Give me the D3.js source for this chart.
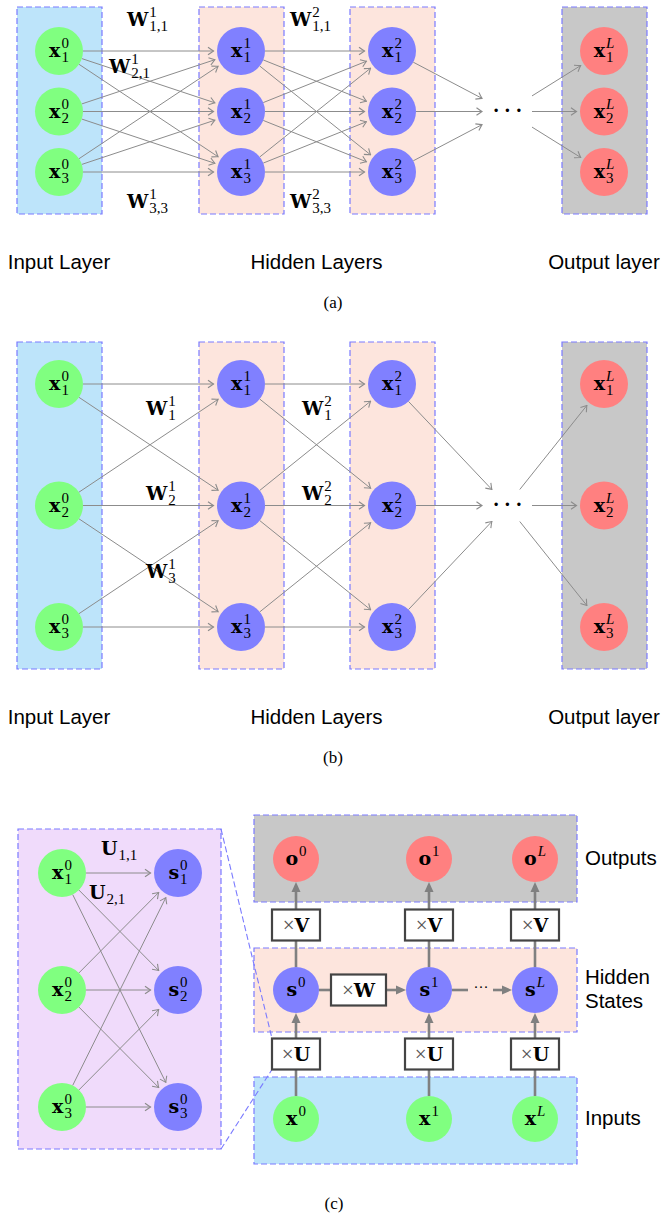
<!DOCTYPE html>
<html>
<head>
<meta charset="utf-8">
<script src="https://cdn.jsdelivr.net/npm/d3@7.9.0/dist/d3.min.js"></script>
<style>
  body { margin: 0; background: #fff; }
  svg { display: block; }
  .mb { font-family: "DejaVu Serif", serif; font-weight: bold; font-size: 19px; fill: #000; }
  .ms { font-family: "Liberation Serif", serif; font-size: 15px; fill: #000; }
  .it { font-style: italic; }
  .sans { font-family: "Liberation Sans", Arial, sans-serif; font-size: 20.5px; fill: #000; }
  .cap { font-family: "Liberation Serif", serif; font-size: 17px; fill: #000; }
</style>
</head>
<body>
<svg id="fig" width="663" height="1213"></svg>
<script>
// ---------- data ----------
const abLayers = ["0", "1", "2", "L"];               // superscripts of the layers
const abKinds = ["input", "hidden", "hidden", "output"];
const abRows = [1, 2, 3];
const layerCaptions = ["Input Layer", "Hidden Layers", "Output layer"];
const denseEdges = d3.cross(abRows, abRows);          // every i -> every j
const bandEdges = [[1, 1], [1, 2], [2, 1], [2, 2], [2, 3], [3, 2], [3, 3]];
const weightLabelsA = [
  { layer: 1, sub: "1,1", slot: "top" },
  { layer: 1, sub: "2,1", slot: "mid" },
  { layer: 1, sub: "3,3", slot: "bottom" },
  { layer: 2, sub: "1,1", slot: "top" },
  { layer: 2, sub: "3,3", slot: "bottom" }
];
const weightLabelsB = [
  { layer: 1, sub: "1", row: 1 },
  { layer: 1, sub: "2", row: 2 },
  { layer: 1, sub: "3", row: 3 },
  { layer: 2, sub: "1", row: 1 },
  { layer: 2, sub: "2", row: 2 }
];
const unrolledLabels = [
  { sub: "1,1", slot: "top" },
  { sub: "2,1", slot: "mid" }
];
const rnnSteps = ["0", "1", "L"];
const rnnRowNames = [["Outputs"], ["Hidden", "States"], ["Inputs"]];
const subCaptions = ["(a)", "(b)", "(c)"];

// ---------- styles ----------
const C = {
  input: "#bde4fa", hidden: "#fde5dd", output: "#c8c8c8", unrolled: "#f0dbfb",
  nInput: "#80ff80", nHidden: "#8080ff", nOutput: "#ff8080",
  edge: "#8c8c8c", edgeThick: "#808080", dash: "#7a7aff", box: "#444"
};
const kindFill = { input: C.nInput, hidden: C.nHidden, output: C.nOutput };
const kindBox = { input: C.input, hidden: C.hidden, output: C.output };

const svg = d3.select("#fig");
const defs = svg.append("defs");

defs.append("marker")
  .attr("id", "to")
  .attr("viewBox", "-7 -5 8 10")
  .attr("refX", 0).attr("refY", 0)
  .attr("markerWidth", 8).attr("markerHeight", 10)
  .attr("markerUnits", "userSpaceOnUse")
  .attr("orient", "auto")
  .append("path")
  .attr("d", "M-5.5,-3.8 Q-1.5,-0.9 0,0 Q-1.5,0.9 -5.5,3.8")
  .attr("fill", "none")
  .attr("stroke", C.edge)
  .attr("stroke-width", 1.1);

defs.append("marker")
  .attr("id", "stealth")
  .attr("viewBox", "-10 -5 11 10")
  .attr("refX", -5).attr("refY", 0)
  .attr("markerWidth", 11).attr("markerHeight", 10)
  .attr("markerUnits", "userSpaceOnUse")
  .attr("orient", "auto")
  .append("path")
  .attr("d", "M-10,-4.5 L0,0 L-10,4.5 z")
  .attr("fill", C.edgeThick);

// ---------- helpers ----------
function trim(x1, y1, x2, y2, r1, r2) {
  const dx = x2 - x1, dy = y2 - y1, L = Math.hypot(dx, dy);
  return [x1 + dx * r1 / L, y1 + dy * r1 / L, x2 - dx * r2 / L, y2 - dy * r2 / L];
}
function rectHit(cx, cy, tx, ty, hw, hh) {
  const dx = tx - cx, dy = ty - cy;
  const s = Math.min(hw / Math.abs(dx || 1e-9), hh / Math.abs(dy || 1e-9));
  return [cx + dx * s, cy + dy * s];
}
// bold base with stacked super/subscript; y is the base line
function mathLabel(g, x, y, base, sup, sub, align) {
  const t = g.append("g");
  const b = t.append("text").attr("class", "mb").text(base);
  const bw = b.node().getComputedTextLength();
  let w2 = 0;
  if (sup) {
    const s = t.append("text").attr("class", "ms" + (sup === "L" ? " it" : ""))
      .attr("x", bw + 1).attr("y", -9).text(sup);
    w2 = Math.max(w2, s.node().getComputedTextLength());
  }
  if (sub) {
    const s = t.append("text").attr("class", "ms").attr("x", bw + 1).attr("y", 5).text(sub);
    w2 = Math.max(w2, s.node().getComputedTextLength());
  }
  const total = bw + 1 + w2;
  const dx = align === "middle" ? -total / 2 : 0;
  t.attr("transform", `translate(${x + dx},${y})`);
}
function node(g, cx, cy, r, fill, base, sup, sub) {
  g.append("circle").attr("cx", cx).attr("cy", cy).attr("r", r).attr("fill", fill);
  mathLabel(g, cx, cy + 6, base, sup, sub, "middle");
}
function dashedBox(g, x0, y0, x1, y1, fill) {
  g.append("rect")
    .attr("x", x0).attr("y", y0).attr("width", x1 - x0).attr("height", y1 - y0)
    .attr("fill", fill).attr("stroke", C.dash).attr("stroke-width", 1.2)
    .attr("stroke-dasharray", "6,3");
}
function thinArrow(g, p) {
  g.append("line")
    .attr("x1", p[0]).attr("y1", p[1]).attr("x2", p[2]).attr("y2", p[3])
    .attr("stroke", C.edge).attr("stroke-width", 1)
    .attr("marker-end", "url(#to)");
}

// ---------- panels (a) and (b) ----------
const R = 24;
const abX = d3.scaleOrdinal().domain(["0", "1", "2", "dots", "L"]).range([59, 241, 392, 507, 604]);
const dotsHalf = { w: 25, h: 16 };

const panelsAB = [
  { y: d3.scaleLinear().domain([1, 3]).range([51, 172]), edges: denseEdges,
    box: [7, 214], captionY: 269, subY: 308, labels: "A" },
  { y: d3.scaleLinear().domain([1, 3]).range([384, 627]), edges: bandEdges,
    box: [342, 669], captionY: 724, subY: 763, labels: "B" }
];

// label anchor scales
const wAx = d3.scaleOrdinal().domain([1, 2]).range([127, 290]);
const wAslotY = d3.scaleOrdinal().domain(["top", "mid", "bottom"]).range([26, 73, 208]);
const wAslotDx = d3.scaleOrdinal().domain(["top", "mid", "bottom"]).range([0, -18, 0]);
const wBx = d3.scaleOrdinal().domain([1, 2]).range([146, 302]);
const wBrowY = d3.scaleOrdinal().domain([1, 2, 3]).range([415, 500, 578]);

panelsAB.forEach((P, pi) => {
  const g = svg.append("g");
  // layer boxes
  abLayers.forEach((l, li) => {
    const cx = abX(l);
    dashedBox(g, cx - 42, P.box[0], cx + 43, P.box[1], kindBox[abKinds[li]]);
  });
  // edges between consecutive layers
  [[abLayers[0], abLayers[1]], [abLayers[1], abLayers[2]]].forEach(([a, b]) => {
    P.edges.forEach(([i, j]) => {
      thinArrow(g, trim(abX(a), P.y(i), abX(b), P.y(j), R, R + 3.5));
    });
  });
  // into / out of the dots
  const dx = abX("dots"), dy = P.y(2);
  abRows.forEach(i => {
    const sx = abX("2"), sy = P.y(i);
    const hit = rectHit(dx, dy, sx, sy, dotsHalf.w, dotsHalf.h);
    thinArrow(g, trim(sx, sy, hit[0], hit[1], R, 0));
    const tx = abX("L"), ty = P.y(i);
    const out = rectHit(dx, dy, tx, ty, dotsHalf.w, dotsHalf.h);
    thinArrow(g, trim(out[0], out[1], tx, ty, 0, R + 3.5));
  });
  g.append("text")
    .attr("x", dx + 3).attr("y", dy + 5)
    .attr("text-anchor", "middle")
    .attr("letter-spacing", "5px")
    .style("font-family", "DejaVu Serif, serif").style("font-weight", "bold").style("font-size", "18px")
    .text("···");
  // nodes
  abLayers.forEach((l, li) => {
    abRows.forEach(i => node(g, abX(l), P.y(i), R, kindFill[abKinds[li]], "x", l, String(i)));
  });
  // weight labels
  if (P.labels === "A") {
    weightLabelsA.forEach(d =>
      mathLabel(g, wAx(d.layer) + wAslotDx(d.slot), wAslotY(d.slot), "W", String(d.layer), d.sub, "start"));
  } else {
    weightLabelsB.forEach(d =>
      mathLabel(g, wBx(d.layer), wBrowY(d.row), "W", String(d.layer), d.sub, "start"));
  }
  // captions
  const capX = [abX("0"), (abX("1") + abX("2")) / 2, abX("L")];
  layerCaptions.forEach((c, ci) => {
    g.append("text").attr("class", "sans")
      .attr("x", capX[ci]).attr("y", P.captionY)
      .attr("text-anchor", "middle").text(c);
  });
  g.append("text").attr("class", "cap")
    .attr("x", 333).attr("y", P.subY).attr("text-anchor", "middle").text(subCaptions[pi]);
});

// ---------- panel (c) ----------
const gc = svg.append("g");

// unrolled first step (left)
const cxL = d3.scaleOrdinal().domain(["x", "s"]).range([62, 178]);
const cyL = d3.scaleLinear().domain([1, 3]).range([873, 1107]);
dashedBox(gc, 18, 829, 221, 1149, C.unrolled);

// recurrent part (right)
const rx = d3.scaleOrdinal().domain(rnnSteps).range([296, 429, 535]);
const ry = d3.scaleOrdinal().domain(["o", "V", "s", "U", "x"]).range([859, 925, 990, 1054, 1119]);
const rowBoxes = [[815, 902, C.output], [948, 1032, C.hidden], [1077, 1164, C.input]];
rowBoxes.forEach(b => dashedBox(gc, 254, b[0], 577, b[1], b[2]));

// zoom lines from the unrolled box to the first xU box
const opBox = { w: 48, h: 31 };
const ux0 = rx("0") - opBox.w / 2;
[[221, 829, ux0, ry("U") - opBox.h / 2], [221, 1149, ux0, ry("U") + opBox.h / 2]].forEach(p => {
  gc.append("line")
    .attr("x1", p[0]).attr("y1", p[1]).attr("x2", p[2]).attr("y2", p[3])
    .attr("stroke", C.dash).attr("stroke-width", 1.1).attr("stroke-dasharray", "6,3");
});

// left edges
denseEdges.forEach(([i, j]) => {
  thinArrow(gc, trim(cxL("x"), cyL(i), cxL("s"), cyL(j), R, R + 3.5));
});
abRows.forEach(i => {
  node(gc, cxL("x"), cyL(i), R, C.nInput, "x", "0", String(i));
  node(gc, cxL("s"), cyL(i), R, C.nHidden, "s", "0", String(i));
});
const uX = d3.scaleOrdinal().domain(["top", "mid"]).range([101, 89]);
const uY = d3.scaleOrdinal().domain(["top", "mid"]).range([855, 899]);
unrolledLabels.forEach(d => mathLabel(gc, uX(d.slot), uY(d.slot), "U", null, d.sub, "start"));

// thick connectors
function thick(p, arrow) {
  const L = Math.hypot(p[2] - p[0], p[3] - p[1]);
  const k = arrow ? (L - 5) / L : 1;
  gc.append("line")
    .attr("x1", p[0]).attr("y1", p[1])
    .attr("x2", p[0] + (p[2] - p[0]) * k).attr("y2", p[1] + (p[3] - p[1]) * k)
    .attr("stroke", C.edgeThick).attr("stroke-width", 2.6)
    .attr("marker-end", arrow ? "url(#stealth)" : null);
}
const r2 = 23;
rnnSteps.forEach(t => {
  const x = rx(t);
  thick([x, ry("x") - r2, x, ry("U") + opBox.h / 2], false);
  thick([x, ry("U") - opBox.h / 2, x, ry("s") + r2], true);
  thick([x, ry("s") - r2, x, ry("V") + opBox.h / 2], false);
  thick([x, ry("V") - opBox.h / 2, x, ry("o") + r2], true);
});
// horizontal recurrence
const wBox = { x: (rx("0") + r2 + rx("1") - r2) / 2 - 4, w: 55, h: 31 };
thick([rx("0") + r2, ry("s"), wBox.x - wBox.w / 2, ry("s")], false);
thick([wBox.x + wBox.w / 2, ry("s"), rx("1") - r2, ry("s")], true);
thick([rx("1") + r2, ry("s"), rx("1") + r2 + 16, ry("s")], false);
thick([rx("L") - r2 - 19, ry("s"), rx("L") - r2, ry("s")], true);
gc.append("text")
  .attr("x", (rx("1") + rx("L")) / 2 - 1).attr("y", ry("s") + 2)
  .attr("text-anchor", "middle")
  .style("font-family", "Liberation Serif, serif").style("font-size", "15px")
  .text("···");

// operator boxes
function opBoxDraw(cx, cy, w, h, letter) {
  gc.append("rect")
    .attr("x", cx - w / 2).attr("y", cy - h / 2).attr("width", w).attr("height", h)
    .attr("fill", "#fff").attr("stroke", C.box).attr("stroke-width", 2.2);
  const t = gc.append("text")
    .attr("x", cx).attr("y", cy + 7)
    .attr("text-anchor", "middle")
    .style("font-family", "DejaVu Serif, serif").style("font-size", "19px");
  t.append("tspan").style("fill", "#555").style("font-family", "Liberation Serif, serif")
    .style("font-size", "21px").text("×");
  t.append("tspan").style("font-weight", "bold").text(letter);
}
rnnSteps.forEach(t => {
  opBoxDraw(rx(t), ry("V"), opBox.w, opBox.h, "V");
  opBoxDraw(rx(t), ry("U"), opBox.w, opBox.h, "U");
});
opBoxDraw(wBox.x, ry("s"), wBox.w, wBox.h, "W");

// nodes
rnnSteps.forEach(t => {
  node(gc, rx(t), ry("o"), r2, C.nOutput, "o", t, null);
  node(gc, rx(t), ry("s"), r2, C.nHidden, "s", t, null);
  node(gc, rx(t), ry("x"), r2, C.nInput, "x", t, null);
});

// row names
const rowNameY = [[865], [984, 1008], [1125]];
rnnRowNames.forEach((lines, i) => {
  lines.forEach((s, k) => {
    gc.append("text").attr("class", "sans")
      .attr("x", 585).attr("y", rowNameY[i][k]).text(s);
  });
});
gc.append("text").attr("class", "cap")
  .attr("x", 334).attr("y", 1209).attr("text-anchor", "middle").text(subCaptions[2]);
</script>
</body>
</html>
